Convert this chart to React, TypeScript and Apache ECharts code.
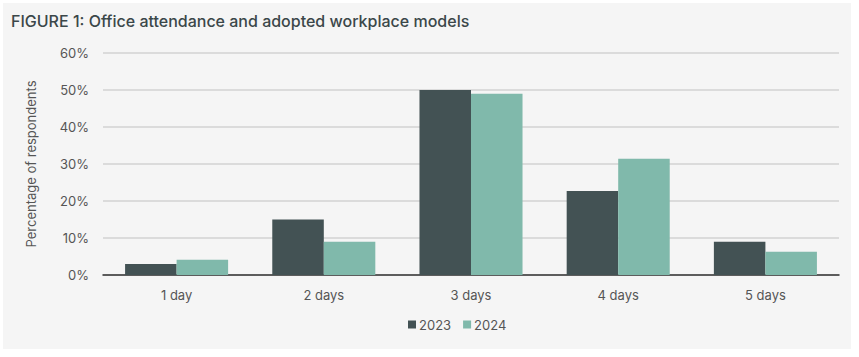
import React, { useEffect, useRef } from "react";
import * as echarts from "echarts";

const categories = ["1 day", "2 days", "3 days", "4 days", "5 days"];
const values2023 = [3.0, 15.0, 50.0, 22.7, 9.0];
const values2024 = [4.1, 9.0, 49.0, 31.4, 6.3];
const seriesNames = ["2023", "2024"];
const titleText = "FIGURE 1: Office attendance and adopted workplace models";
const yAxisName = "Percentage of respondents";

const FONT = "Inter, Roboto, 'Noto Sans', sans-serif";

export default function App() {
  const ref = useRef<HTMLDivElement>(null);
  useEffect(() => {
    document.body.style.margin = "0";
    const chart = echarts.init(ref.current!, null, { renderer: "svg" });
    chart.setOption({
      animation: false,
      backgroundColor: "#ffffff",
      textStyle: { fontFamily: FONT },
      graphic: [
        {
          type: "rect",
          left: 3,
          top: 3,
          shape: { width: 848, height: 346 },
          style: { fill: "#f5f5f5" },
          z: -10,
          silent: true,
        },
      ],
      title: {
        text: titleText,
        left: 6,
        top: 8,
        textStyle: { fontFamily: FONT, fontSize: 16, fontWeight: 500, color: "#3b4749" },
      },
      legend: {
        data: seriesNames,
        bottom: 21,
        left: 403,
        itemWidth: 8,
        itemHeight: 8,
        itemGap: 12,
        icon: "rect",
        textStyle: { fontFamily: FONT, fontSize: 13, color: "#555", padding: [0, 0, 0, -2] },
      },
      grid: { left: 103, right: 20, top: 53, bottom: 82 },
      xAxis: {
        type: "category",
        data: categories,
        axisTick: { show: false },
        axisLine: { lineStyle: { color: "#333", width: 1.5 } },
        axisLabel: { color: "#555", fontSize: 13, margin: 13, fontFamily: FONT },
      },
      yAxis: {
        type: "value",
        min: 0,
        max: 60,
        interval: 10,
        name: yAxisName,
        nameLocation: "middle",
        nameGap: 66,
        nameTextStyle: { color: "#555", fontSize: 13, fontFamily: FONT },
        axisLabel: { formatter: "{value}%", color: "#555", fontSize: 13, margin: 14, fontFamily: FONT },
        splitLine: { lineStyle: { color: "#d2d2d2", width: 1.5 } },
        axisLine: { show: false },
        axisTick: { show: false },
      },
      series: [
        {
          name: seriesNames[0],
          type: "bar",
          data: values2023,
          barGap: "0%",
          barCategoryGap: "30%",
          itemStyle: { color: "#435254" },
        },
        {
          name: seriesNames[1],
          type: "bar",
          data: values2024,
          barGap: "0%",
          barCategoryGap: "30%",
          itemStyle: { color: "#80b9ab" },
        },
      ],
    });
    return () => chart.dispose();
  }, []);
  return <div ref={ref} style={{ width: 859, height: 357 }} />;
}
